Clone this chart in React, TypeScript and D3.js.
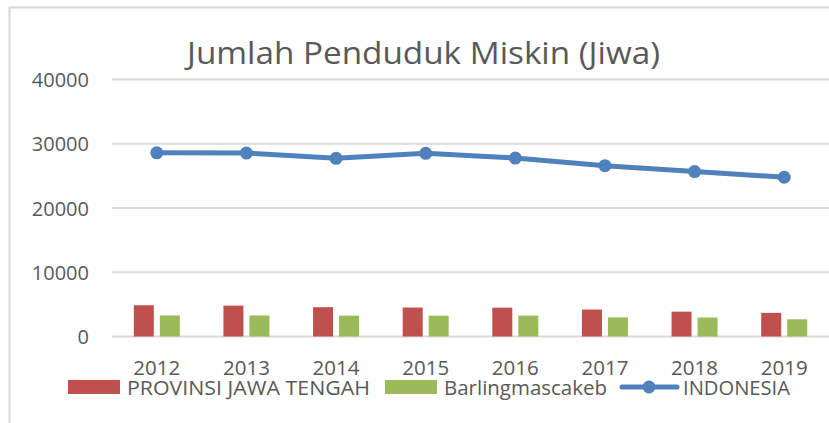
import * as d3 from 'd3'

const years = ['2012', '2013', '2014', '2015', '2016', '2017', '2018', '2019']
const jawaTengah = [4863, 4811, 4562, 4506, 4494, 4197, 3867, 3680]
const barlingmascakeb = [3280, 3270, 3250, 3240, 3250, 2980, 2950, 2680]
const indonesia = [28594, 28553, 27727, 28513, 27764, 26582, 25674, 24785]
const yTicks = [0, 10000, 20000, 30000, 40000]
const seriesNames = ['PROVINSI JAWA TENGAH', 'Barlingmascakeb', 'INDONESIA']

const width = 829
const height = 423
const font = '"Open Sans", "Liberation Sans", sans-serif'
const textColor = '#595959'
const gridColor = '#d9d9d9'
const colors = ['#c0504d', '#9bbb59', '#4f81bd']

export default function App() {
  // scales
  const x = d3.scaleBand<string>().domain(years).range([112, 829])
  const x1 = d3
    .scaleBand<string>()
    .domain(seriesNames.slice(0, 2))
    .range([x.bandwidth() / 2 - 23, x.bandwidth() / 2 + 23])
    .paddingInner(0.231)
  const y = d3.scaleLinear().domain([0, 40000]).range([336.5, 79.5])

  const line = d3
    .line<number>()
    .x((_, i) => (x(years[i]) ?? 0) + x.bandwidth() / 2)
    .y((d) => y(d))

  const barSeries = [jawaTengah, barlingmascakeb]

  return (
    <svg
      width={width}
      height={height}
      style={{ position: 'absolute', left: 0, top: 0, background: '#fff' }}
      fontFamily={font}
    >
      <rect x={0} y={0} width={width} height={height} fill="#fff" />
      {/* chart frame */}
      <path d={`M9.5,${height} V7.5 H${width}`} fill="none" stroke={gridColor} strokeWidth={2} />

      {/* title */}
      <text
        x={423.5}
        y={63.5}
        textAnchor="middle"
        fontSize={31}
        fill={textColor}
        textLength={473}
        lengthAdjust="spacingAndGlyphs"
      >
        Jumlah Penduduk Miskin (Jiwa)
      </text>

      {/* grid + y labels */}
      {yTicks.map((t) => (
        <g key={t}>
          <line x1={112} x2={width} y1={y(t)} y2={y(t)} stroke={gridColor} strokeWidth={1.8} />
          <text x={89} y={y(t) + 7.5} textAnchor="end" fontSize={20} fill={textColor}>
            {t}
          </text>
        </g>
      ))}

      {/* bars */}
      {years.map((yr, i) => (
        <g key={yr} transform={`translate(${x(yr)},0)`}>
          {barSeries.map((s, j) => (
            <rect
              key={j}
              x={x1(seriesNames[j])}
              y={y(s[i])}
              width={x1.bandwidth()}
              height={y(0) - y(s[i])}
              fill={colors[j]}
            />
          ))}
          <text
            x={x.bandwidth() / 2}
            y={375}
            textAnchor="middle"
            fontSize={20.5}
            fill={textColor}
          >
            {yr}
          </text>
        </g>
      ))}

      {/* indonesia line */}
      <path d={line(indonesia) ?? ''} fill="none" stroke={colors[2]} strokeWidth={5} strokeLinejoin="round" />
      {indonesia.map((v, i) => (
        <circle key={i} cx={(x(years[i]) ?? 0) + x.bandwidth() / 2} cy={y(v)} r={6.5} fill={colors[2]} />
      ))}

      {/* legend */}
      <g fontSize={20} fill={textColor}>
        <rect x={68} y={380} width={52} height={14} fill={colors[0]} />
        <text x={127} y={394.5} fill={textColor} textLength={243} lengthAdjust="spacingAndGlyphs">
          {seriesNames[0]}
        </text>
        <rect x={385} y={380} width={52} height={14} fill={colors[1]} />
        <text x={444} y={394.5} fill={textColor} textLength={163} lengthAdjust="spacingAndGlyphs">
          {seriesNames[1]}
        </text>
        <line x1={622} x2={677} y1={387} y2={387} stroke={colors[2]} strokeWidth={5} strokeLinecap="round" />
        <circle cx={649} cy={387} r={6.5} fill={colors[2]} />
        <text x={683} y={394.5} fill={textColor} textLength={107} lengthAdjust="spacingAndGlyphs">
          {seriesNames[2]}
        </text>
      </g>
    </svg>
  )
}
